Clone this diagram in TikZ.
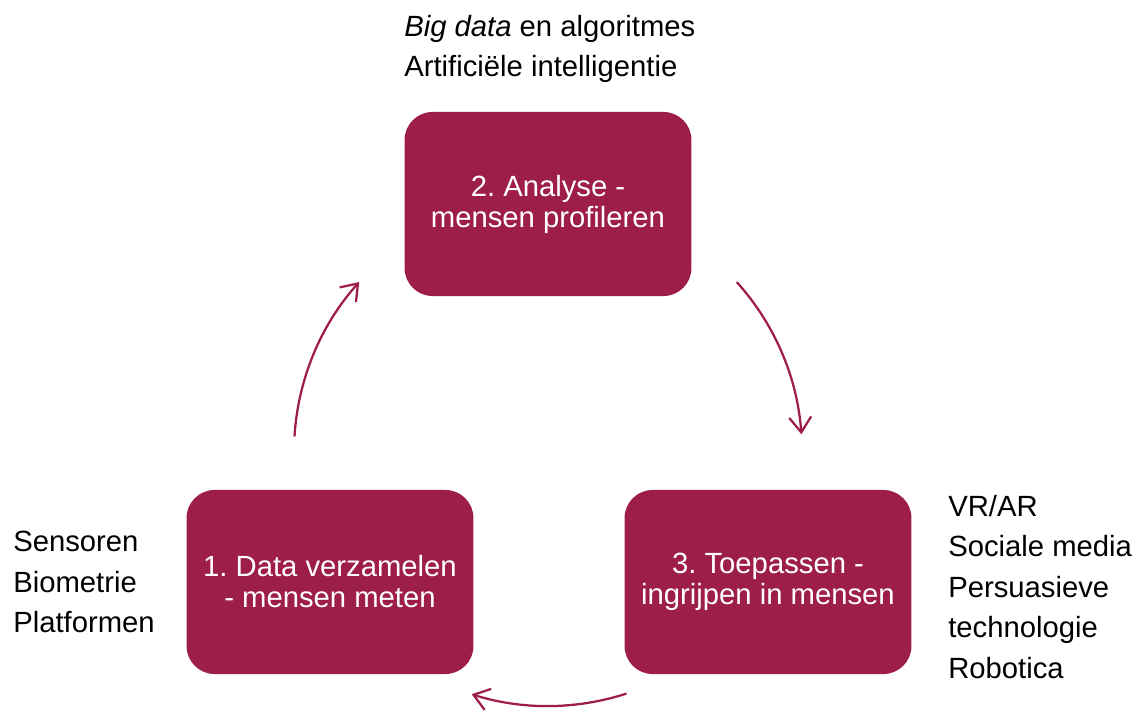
\documentclass[tikz,border=0pt]{standalone}
\usepackage{fontspec}
\setmainfont{Liberation Sans}
\usetikzlibrary{arrows.meta,positioning}
\definecolor{cyclered}{RGB}{158,30,74}
\frenchspacing

\begin{document}
\begin{tikzpicture}[x=0.025cm, y=0.025cm,
  stap/.style={fill=cyclered, rounded corners=0.7cm, minimum width=7.17cm,
    minimum height=4.6cm, text=white, align=center,
    font=\fontsize{20.8}{22}\selectfont},
  lijst/.style={anchor=west, align=left, inner sep=0pt,
    font=\fontsize{20.8}{28.8}\selectfont},
  pijl/.style={cyclered, line width=1.6pt,
    -{Straight Barb[length=3.8mm,width=5.5mm,line width=1.6pt]}}]
\useasboundingbox (0,0) rectangle (1139,711);
% Three steps of the cycle
\node[stap] (analyse) at (548,507) {2. Analyse -\\mensen profileren};
\node[stap] (verzamelen) at (330,129) {1. Data verzamelen\\- mensen meten};
\node[stap] (toepassen) at (768,129) {3. Toepassen -\\ingrijpen in mensen};
% Techniques per step
\node[lijst] (technieken) at (404,662) {\textit{Big data} en algoritmes\\Artificiële intelligentie};
\node[lijst] (bronnen) at (13,129) {Sensoren\\Biometrie\\Platformen};
\node[lijst] (middelen) at (948,124) {VR/AR\\Sociale media\\Persuasieve\\technologie\\Robotica};
% Arrows on one circle round the middle
\coordinate (midden) at (548,259);
\draw[pijl] (midden) ++(176.5:254) arc[start angle=176.5, end angle=138, radius=254];
\draw[pijl] (midden) ++(42:254) arc[start angle=42, end angle=4, radius=254];
\draw[pijl] (midden) ++(-72:254) arc[start angle=-72, end angle=-107.5, radius=254];
\end{tikzpicture}
\end{document}
